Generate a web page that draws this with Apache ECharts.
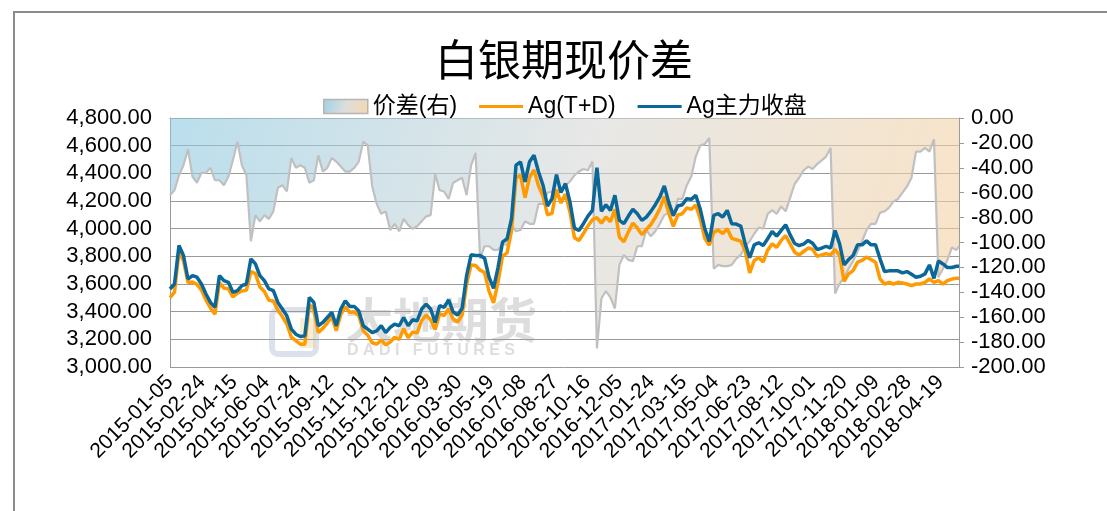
<!DOCTYPE html>
<html><head><meta charset="utf-8">
<script src="https://cdn.jsdelivr.net/npm/echarts@6/dist/echarts.min.js"></script>
<style>html,body{margin:0;padding:0;background:#fff}#c{width:1107px;height:511px}</style>
</head><body><div id="c"></div>
<script>
// ---- data (weekly readings) ----
const dates = [
'2015-01-05','2015-01-12','2015-01-19','2015-01-26','2015-02-02','2015-02-09','2015-02-16','2015-02-23','2015-03-02','2015-03-09','2015-03-16','2015-03-23','2015-03-30','2015-04-06','2015-04-13','2015-04-20','2015-04-27','2015-05-04','2015-05-11','2015-05-18','2015-05-25','2015-06-01','2015-06-08','2015-06-15','2015-06-22','2015-06-29','2015-07-06','2015-07-13','2015-07-20','2015-07-27','2015-08-03','2015-08-10','2015-08-17','2015-08-24','2015-08-31','2015-09-07','2015-09-14','2015-09-21','2015-09-28','2015-10-05','2015-10-12','2015-10-19','2015-10-26','2015-11-02','2015-11-09','2015-11-16','2015-11-23','2015-11-30','2015-12-07','2015-12-14','2015-12-21','2015-12-28',
'2016-01-04','2016-01-11','2016-01-18','2016-01-25','2016-02-01','2016-02-08','2016-02-15','2016-02-22','2016-02-29','2016-03-07','2016-03-14','2016-03-21','2016-03-28','2016-04-04','2016-04-11','2016-04-18','2016-04-25','2016-05-02','2016-05-09','2016-05-16','2016-05-23','2016-05-30','2016-06-06','2016-06-13','2016-06-20','2016-06-27','2016-07-04','2016-07-11','2016-07-18','2016-07-25','2016-08-01','2016-08-08','2016-08-15','2016-08-22','2016-08-29','2016-09-05','2016-09-12','2016-09-19','2016-09-26','2016-10-03','2016-10-10','2016-10-17','2016-10-24','2016-10-31','2016-11-07','2016-11-14','2016-11-21','2016-11-28','2016-12-05','2016-12-12','2016-12-19','2016-12-26',
'2017-01-02','2017-01-09','2017-01-16','2017-01-23','2017-01-30','2017-02-06','2017-02-13','2017-02-20','2017-02-27','2017-03-06','2017-03-13','2017-03-20','2017-03-27','2017-04-03','2017-04-10','2017-04-17','2017-04-24','2017-05-01','2017-05-08','2017-05-15','2017-05-22','2017-05-29','2017-06-05','2017-06-12','2017-06-19','2017-06-26','2017-07-03','2017-07-10','2017-07-17','2017-07-24','2017-07-31','2017-08-07','2017-08-14','2017-08-21','2017-08-28','2017-09-04','2017-09-11','2017-09-18','2017-09-25','2017-10-02','2017-10-09','2017-10-16','2017-10-23','2017-10-30','2017-11-06','2017-11-13','2017-11-20','2017-11-27','2017-12-04','2017-12-11','2017-12-18','2017-12-25',
'2018-01-01','2018-01-08','2018-01-15','2018-01-22','2018-01-29','2018-02-05','2018-02-12','2018-02-19','2018-02-26','2018-03-05','2018-03-12','2018-03-19','2018-03-26','2018-04-02','2018-04-09','2018-04-16','2018-04-23','2018-04-30','2018-05-07','2018-05-14','2018-05-18'
];
const agMain = [
3564,3600,3878,3806,3636,3661,3649,3600,3528,3467,3431,3661,3624,3612,3540,3552,3588,3600,3782,3745,3661,3624,3564,3552,3467,3419,3370,3274,3237,3220,3225,3503,3467,3298,3322,3358,3395,3298,3419,3479,3438,3438,3407,3298,3274,3249,3261,3298,3249,3286,3310,3298,
3358,3298,3341,3334,3419,3455,3419,3322,3443,3431,3486,3399,3375,3424,3661,3811,3806,3806,3786,3649,3569,3721,3903,3927,4072,4459,4483,4338,4483,4531,4411,4314,4164,4217,4391,4261,4326,4193,4004,3987,4036,4091,4132,4440,4125,4173,4132,4241,4060,4036,4091,4140,
4108,4060,4084,4125,4173,4229,4309,4188,4096,4164,4173,4217,4212,4241,4140,4000,3907,4096,4108,4084,4132,4036,4033,4019,3890,3790,3883,3898,3878,3927,3980,3946,3988,4028,3955,3893,3878,3888,3915,3895,3849,3859,3873,3859,3987,3890,3738,3777,3806,3883,3883,3912,
3883,3883,3782,3690,3695,3695,3695,3680,3690,3670,3649,3656,3673,3738,3641,3767,3745,3719,3719,3728,3728
];
const agTD = [
3502,3542,3832,3768,3611,3614,3597,3556,3484,3427,3381,3611,3570,3565,3506,3533,3550,3554,3690,3675,3578,3546,3483,3477,3411,3365,3311,3215,3190,3165,3165,3451,3417,3249,3279,3318,3363,3263,3380,3436,3395,3398,3372,3262,3230,3175,3165,3195,3160,3180,3215,3200,
3277,3212,3252,3247,3336,3376,3341,3271,3385,3372,3421,3347,3325,3376,3599,3738,3733,3700,3683,3546,3463,3615,3802,3825,3986,4368,4385,4225,4370,4425,4310,4235,4100,4110,4280,4185,4250,4120,3935,3915,3965,4020,4065,4080,4040,4085,4050,4140,3940,3905,3977,4040,
4005,3957,3994,4030,4082,4144,4231,4112,4017,4099,4108,4150,4140,4170,4070,3930,3880,3975,3990,3965,4000,3930,3920,3910,3840,3680,3770,3790,3760,3845,3890,3865,3915,3950,3890,3830,3810,3835,3860,3850,3800,3810,3820,3810,3850,3806,3620,3673,3697,3758,3770,3794,
3777,3758,3636,3600,3612,3600,3612,3607,3600,3588,3600,3600,3612,3636,3612,3624,3600,3624,3636,3641,3641
];
const spread = [
-62,-58,-46,-38,-25,-47,-52,-44,-44,-40,-50,-50,-54,-47,-34,-19,-38,-46,-99,-78,-83,-78,-81,-75,-56,-54,-59,-32,-40,-38,-40,-52,-50,-30,-43,-40,-32,-35,-39,-43,-43,-40,-35,-19,-22,-55,-69,-77,-75,-90,-85,-91,
-81,-86,-89,-87,-83,-79,-78,-45,-58,-59,-65,-52,-50,-48,-62,-38,-28,-113,-103,-103,-106,-106,-101,-102,-86,-91,-90,-83,-85,-85,-69,-69,-60,-59,-58,-58,-54,-51,-46,-43,-41,-42,-35,-185,-145,-139,-144,-153,-118,-110,-114,-115,
-103,-103,-90,-95,-91,-85,-78,-76,-79,-65,-65,-54,-47,-31,-22,-21,-16,-121,-118,-119,-119,-118,-113,-110,-103,-99,-93,-88,-89,-77,-74,-77,-71,-75,-64,-53,-48,-42,-39,-41,-37,-34,-31,-24,-141,-133,-128,-121,-115,-107,-99,-90,
-85,-85,-76,-75,-72,-67,-65,-60,-55,-48,-27,-27,-24,-27,-17,-128,-121,-114,-104,-106,-103
];
const seriesNames = ['价差(右)', 'Ag(T+D)', 'Ag主力收盘'];
const titleText = '白银期现价差';
const startDate = '2015-01-05';

// ---- helpers ----
const DAY = 86400000;
const t0 = Date.parse(startDate);
const off = d => Math.round((Date.parse(d) - t0) / DAY);
const fmtDate = v => { const d = new Date(t0 + v * DAY); const p = n => String(n).padStart(2, '0');
  return d.getUTCFullYear() + '-' + p(d.getUTCMonth() + 1) + '-' + p(d.getUTCDate()); };
const fmtNum = v => v.toLocaleString('en-US', {minimumFractionDigits: 2, maximumFractionDigits: 2});
const pairs = arr => dates.map((d, i) => [off(d), arr[i]]);

const FONT = "'Liberation Sans','Noto Sans CJK SC',sans-serif";
const grad = () => new echarts.graphic.LinearGradient(0, 0, 1, 1, [
  {offset: 0, color: 'rgba(140,200,224,0.85)'},
  {offset: 0.5, color: 'rgba(215,216,214,0.85)'},
  {offset: 1, color: 'rgba(246,208,158,0.85)'}
]);
// legend line icon: thin bar centred in the icon box (tiny corner marks fix the box size)
const lineIcon = 'path://M0,0h0.01v0.01h-0.01z M0,5.4h46v3.2h-46z M45.99,13.99h0.01v0.01h-0.01z';

const chart = echarts.init(document.getElementById('c'), null, {renderer: 'canvas'});
chart.setOption({
  animation: false,
  backgroundColor: '#fff',
  title: {text: titleText, left: 430, top: 33,
    textStyle: {fontFamily: "'Noto Sans CJK SC',sans-serif", fontSize: 43, fontWeight: 'normal', color: '#000'}},
  legend: {
    left: 318, top: 90, itemGap: 22, itemWidth: 44, itemHeight: 14,
    textStyle: {fontFamily: FONT, fontSize: 23, color: '#000'},
    data: [
      {name: seriesNames[0], icon: 'rect', itemStyle: {color: grad(), borderColor: '#b5b5b5', borderWidth: 1.5}},
      {name: seriesNames[1], icon: lineIcon, itemStyle: {color: '#ff9a00', borderWidth: 0}},
      {name: seriesNames[2], icon: lineIcon, itemStyle: {color: '#0b6798', borderWidth: 0}}
    ]
  },
  grid: {left: 170, right: 148, top: 118, bottom: 144, containLabel: false},
  xAxis: {
    type: 'value', min: 0, max: off(dates[dates.length - 1]), interval: 50,
    axisLine: {show: true, lineStyle: {color: '#9a9a9a', width: 1}},
    axisTick: {show: false},
    splitLine: {show: false},
    axisLabel: {rotate: 45, margin: 12, showMaxLabel: false, formatter: fmtDate,
      fontFamily: FONT, fontSize: 21, color: '#000'}
  },
  yAxis: [
    {type: 'value', min: 3000, max: 4800, interval: 200, position: 'left',
      axisLine: {show: true, lineStyle: {color: '#9a9a9a'}}, axisTick: {show: false},
      splitLine: {show: true, lineStyle: {color: '#9a9a9a', width: 1}},
      axisLabel: {formatter: fmtNum, margin: 18, fontFamily: FONT, fontSize: 22, color: '#000'}},
    {type: 'value', min: -200, max: 0, interval: 20, position: 'right',
      axisLine: {show: true, lineStyle: {color: '#9a9a9a'}},
      axisTick: {show: true, length: 5, inside: false, lineStyle: {color: '#9a9a9a'}},
      splitLine: {show: false},
      axisLabel: {formatter: fmtNum, margin: 12, fontFamily: FONT, fontSize: 22, color: '#000'}}
  ],
  series: [
    {name: seriesNames[0], type: 'line', yAxisIndex: 1, symbol: 'none', data: pairs(spread),
      lineStyle: {color: '#c0c0c0', width: 2.2}, itemStyle: {color: '#c0c0c0'},
      areaStyle: {origin: 'end', color: grad()}, z: 2},
    {name: seriesNames[1], type: 'line', yAxisIndex: 0, symbol: 'none', data: pairs(agTD),
      lineStyle: {color: '#ff9a00', width: 3.5}, itemStyle: {color: '#ff9a00'}, z: 3},
    {name: seriesNames[2], type: 'line', yAxisIndex: 0, symbol: 'none', data: pairs(agMain),
      lineStyle: {color: '#0b6798', width: 3.5}, itemStyle: {color: '#0b6798'}, z: 4}
  ],
  graphic: [
    {type: 'rect', z: 0, silent: true, shape: {x: 14, y: 12, width: 1200, height: 600},
      style: {fill: null, stroke: '#8c8c8c', lineWidth: 2}},
    {type: 'group', z: 1, silent: true, children: [
      {type: 'rect', shape: {x: 272, y: 310, width: 44, height: 44, r: 6},
        style: {fill: null, stroke: 'rgba(170,180,205,0.4)', lineWidth: 6}},
      {type: 'rect', shape: {x: 300, y: 318, width: 16, height: 30},
        style: {fill: 'rgba(235,210,150,0.4)'}},
      {type: 'text', x: 345, y: 296, style: {text: '大地期货', font: "bold 48px 'Noto Sans CJK SC'", fill: 'rgba(170,170,170,0.4)'}},
      {type: 'text', x: 347, y: 343, style: {text: 'D A D I   F U T U R E S', font: "bold 16px 'Liberation Sans'", fill: 'rgba(170,170,170,0.4)'}}
    ]}
  ]
});
</script></body></html>
